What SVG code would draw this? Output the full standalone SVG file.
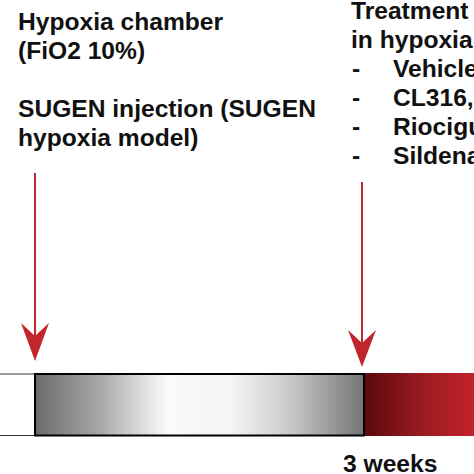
<svg xmlns="http://www.w3.org/2000/svg" width="474" height="474" viewBox="0 0 474 474">
<defs>
<style>
.t{font-family:"Liberation Sans",Arial,sans-serif;font-weight:bold;font-size:24.6px;fill:#111}
.shaft{stroke:#c1262d;stroke-width:2;fill:none}
.head{fill:#c1262d}
</style>
<linearGradient id="gray" x1="0" y1="0" x2="1" y2="0">
<stop offset="0" stop-color="#6a6a6a"/>
<stop offset="0.2" stop-color="#a8a8a8"/>
<stop offset="0.4" stop-color="#fafafa"/>
<stop offset="0.6" stop-color="#f4f4f4"/>
<stop offset="0.77" stop-color="#cbcbcb"/>
<stop offset="1" stop-color="#747474"/>
</linearGradient>
<linearGradient id="red" x1="0" y1="0" x2="1" y2="0">
<stop offset="0" stop-color="#5a080c"/>
<stop offset="0.5" stop-color="#971a20"/>
<stop offset="1" stop-color="#c32229"/>
</linearGradient>
</defs>
<rect width="474" height="474" fill="#fff"/>
<g id="label-left">
<text class="t" x="18" y="30">Hypoxia chamber</text>
<text class="t" x="18" y="59">(FiO2 10%)</text>
<text class="t" x="18" y="117">SUGEN injection (SUGEN</text>
<text class="t" x="18" y="146">hypoxia model)</text>
</g>
<g id="label-right">
<text class="t" x="351" y="19">Treatment</text>
<text class="t" x="351" y="48">in hypoxia</text>
<text class="t" x="352" y="77">-</text><text class="t" x="393" y="77">Vehicle</text>
<text class="t" x="352" y="106">-</text><text class="t" x="393" y="106">CL316,</text>
<text class="t" x="352" y="135">-</text><text class="t" x="393" y="135">Riociguat</text>
<text class="t" x="352" y="164">-</text><text class="t" x="393" y="164">Sildenafil</text>
</g>
<g id="timeline">
<line x1="0" y1="374" x2="35" y2="374" stroke="#333" stroke-width="1"/>
<line x1="0" y1="435.5" x2="35" y2="435.5" stroke="#333" stroke-width="1"/>
<rect x="364" y="373" width="110" height="63" fill="url(#red)"/>
<rect x="35" y="374" width="329" height="61.5" fill="url(#gray)" stroke="#000" stroke-width="2"/>
</g>
<g id="label-bottom">
<text class="t" x="343" y="472">3 weeks</text>
</g>
<g id="connectors">
<line class="shaft" x1="35" y1="173" x2="35" y2="340"/>
<path class="head" d="M35,361 L21,323 L35,336 L49,323 Z"/>
<line class="shaft" x1="362" y1="182" x2="362" y2="347"/>
<path class="head" d="M362,367 L348,330 L362,343 L376,330 Z"/>
</g>
</svg>
